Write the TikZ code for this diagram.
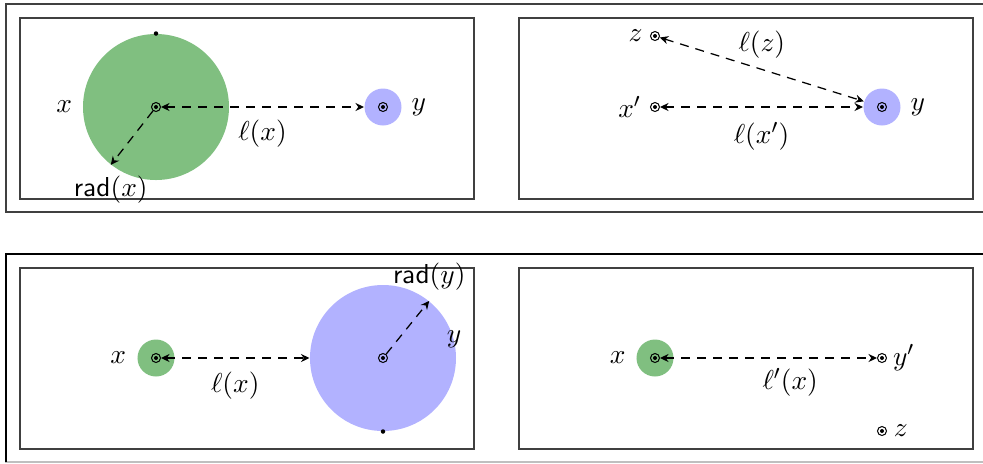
\documentclass[tikz,border=0pt]{standalone}
\usepackage{amsmath, amssymb}
\usepackage{xcolor}
\usepackage{tikz}
\usetikzlibrary{arrows.meta, calc, positioning}

\begin{document}
\begin{tikzpicture}[x=0.4pt,y=-0.4pt,
  obs/.style={circle,draw,line width=0.4pt,inner sep=0pt,minimum size=3.6pt,
    path picture={\fill (path picture bounding box.center) circle(0.8pt);}},
  disc/.style={circle,inner sep=0pt,minimum size=#1},
  big/.style={disc=58.4pt},
  small/.style={disc=14.8pt},
  gfill/.style={fill=green!50!black!50},
  bfill/.style={fill=blue!30},
  lab/.style={inner sep=1pt,font=\fontsize{10.95}{13.6}\selectfont},
  frame/.style={draw=black!75,line width=0.5pt},
  dist/.style={dash pattern=on 3.6pt off 2.8pt,line width=0.5pt,
    {Stealth[length=3.4pt,width=3.2pt]}-{Stealth[length=3.4pt,width=3.2pt]}},
  radius/.style={dash pattern=on 3.6pt off 2.8pt,line width=0.5pt,
    -{Stealth[length=3.4pt,width=3.2pt]}}]
\useasboundingbox (0,0) rectangle (983,463);
\clip (0,0) rectangle (983,463);
\def\xl{156}\def\xr{655}
\def\yl{383}\def\yr{882}
\def\ra{107}\def\rb{358}
% Outer frames and panels
\draw[frame] (6,4) rectangle (995,212);
\draw[frame,draw=black!25] (6,254) rectangle (995,462);
\draw[frame,draw=black] (995,254) -- (6,254) -- (6,462);
\foreach \px in {20,519}
  \foreach \py in {18,268}
    \draw[frame] (\px,\py) rectangle +(454,181);

% Panel 1: big x, small y
\node[big,gfill] (gxA) at (\xl,\ra) {};
\node[small,bfill] (byA) at (\yl,\ra) {};
\node[obs] (pxA) at (gxA) {};
\node[obs] (pyA) at (byA) {};
\fill (gxA.north) circle(0.9pt);
\node[lab,left=3pt of gxA] (lxA) {$x$};
\node[lab,right=2.6pt of byA] (lyA) {$y$};
\draw[dist] (pxA) -- (byA) node[lab,midway,below=4pt] (dA) {$\ell(x)$};
\coordinate (rA) at (gxA.232);
\draw[radius] (pxA) -- (rA);
\node[lab,below=3.2pt of rA] (lrA) {$\mathsf{rad}(x)$};

% Panel 2: points z, x' and small y
\node[obs] (pzB) at (\xr,36) {};
\node[obs] (pxB) at (\xr,\ra) {};
\node[small,bfill] (byB) at (\yr,\ra) {};
\node[obs] (pyB) at (byB) {};
\node[lab,left=1.8pt of pzB] (lzB) {$z$};
\node[lab,left=2.4pt of pxB] (lxB) {$x'$};
\node[lab,right=2.6pt of byB] (lyB) {$y$};
\draw[dist] (pzB) -- (byB) node[lab,midway,above=3pt] (dzB) {$\ell(z)$};
\draw[dist] (pxB) -- (byB) node[lab,midway,below=4.8pt] (dxB) {$\ell(x')$};

% Panel 3: small x, big y
\node[small,gfill] (gxC) at (\xl,\rb) {};
\node[big,bfill] (byC) at (\yl,\rb) {};
\node[obs] (pxC) at (gxC) {};
\node[obs] (pyC) at (byC) {};
\fill (byC.south) circle(0.9pt);
\node[lab,left=3.2pt of gxC] (lxC) {$x$};
\node[lab] (lyC) at (byC.15) {$y$};
\draw[dist] (pxC) -- (byC) node[lab,midway,below=4.4pt] (dC) {$\ell(x)$};
\coordinate (rC) at (byC.51);
\draw[radius] (pyC) -- (rC);
\node[lab,above=3pt of rC] (lrC) {$\mathsf{rad}(y)$};

% Panel 4: small x, points y' and z
\node[small,gfill] (gxD) at (\xr,\rb) {};
\node[obs] (pxD) at (gxD) {};
\node[obs] (pyD) at (\yr,\rb) {};
\node[obs] (pzD) at (\yr,431) {};
\node[lab,left=3pt of gxD] (lxD) {$x$};
\node[lab,right=1.2pt of pyD] (lyD) {$y'$};
\node[lab,right=1.6pt of pzD] (lzD) {$z$};
\draw[dist] (pxD) -- (pyD) node[lab,pos=0.6,below=3pt] (dD) {$\ell'(x)$};
\end{tikzpicture}
\end{document}
